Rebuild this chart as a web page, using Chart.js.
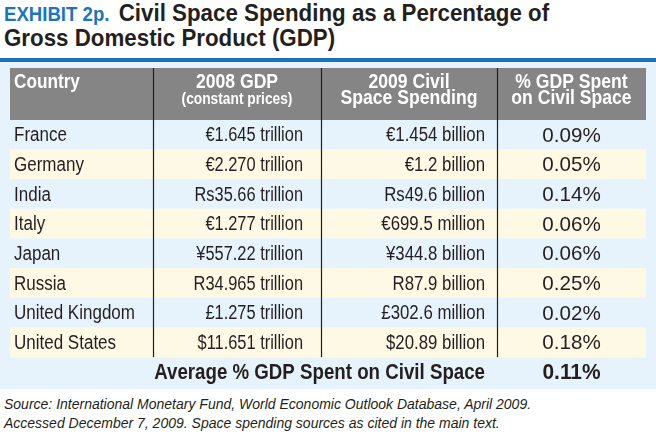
<!DOCTYPE html>
<html>
<head>
    <title>Civil Space Spending as a Percentage of GDP</title>
    <script src="https://cdn.jsdelivr.net/npm/chart.js"></script>
    <style>
        body {
            margin: 0;
            width: 656px;
            height: 437px;
            position: relative;
            overflow: hidden;
            background-color: #ffffff;
            color: #231f20;
            font-family: "Liberation Sans", Arial, sans-serif;
        }

        .title {
            position: absolute;
            left: 4px;
            top: 1px;
            font-weight: bold;
            font-size: 24px;
            line-height: 23px;
            white-space: nowrap;
            transform: scaleX(0.93);
            transform-origin: 0 0;
        }

        .title .exhibit {
            color: #1b75bb;
            font-size: 20px;
            margin-right: 10px;
        }

        .rule {
            position: absolute;
            left: 0;
            top: 58px;
            width: 656px;
            height: 4px;
            background-color: #1a72b9;
        }

        .panel {
            position: absolute;
            left: 0;
            top: 62px;
            width: 656px;
            height: 327px;
            background-color: #e7f3fc;
        }

        .source {
            position: absolute;
            left: 4px;
            top: 395px;
            font-style: italic;
            font-size: 14px;
            line-height: 19px;
        }
    </style>
</head>
<body>
    <div class="title"><span class="exhibit">EXHIBIT 2p.</span>Civil Space Spending as a Percentage of<br>Gross Domestic Product (GDP)</div>
    <div class="rule"></div>
    <div class="panel">
        <canvas id="spaceTable" width="656" height="327"></canvas>
    </div>
    <div class="source">Source: International Monetary Fund, World Economic Outlook Database, April 2009.<br>Accessed December 7, 2009. Space spending sources as cited in the main text.</div>

    <script>
        // table data
        var countries = ['France', 'Germany', 'India', 'Italy', 'Japan', 'Russia', 'United Kingdom', 'United States'];
        var gdp2008 = ['€1.645 trillion', '€2.270 trillion', 'Rs35.66 trillion', '€1.277 trillion',
                       '¥557.22 trillion', 'R34.965 trillion', '£1.275 trillion', '$11.651 trillion'];
        var spending2009 = ['€1.454 billion', '€1.2 billion', 'Rs49.6 billion', '€699.5 million',
                            '¥344.8 billion', 'R87.9 billion', '£302.6 million', '$20.89 billion'];
        var pctGdp = [0.09, 0.05, 0.14, 0.06, 0.06, 0.25, 0.02, 0.18];
        var averagePct = 0.11;
        var averageLabel = 'Average % GDP Spent on Civil Space';
        var headerLines = [
            ['Country'],
            ['2008 GDP', '(constant prices)'],
            ['2009 Civil', 'Space Spending'],
            ['% GDP Spent', 'on Civil Space']
        ];

        // layout (table units = pixels across the table)
        var tableWidth = 636;
        var colEdges = [0, 143, 311, 487, 636];
        var headerHeight = 52;
        var fontFamily = '"Liberation Sans", Arial, sans-serif';
        var textColor = '#231f20';
        var rowColors = ['#e7f3fc', '#fdf9e4'];

        var rowLabels = countries.concat([averageLabel]);

        function fmtPct(v) {
            return v.toFixed(2) + '%';
        }

        // text squeezed sideways, the original face is a narrow one
        function squeezeText(ctx, text, x, y, align, font, sx) {
            ctx.save();
            ctx.translate(x, y);
            ctx.scale(sx, 1);
            ctx.font = font;
            ctx.textAlign = align;
            ctx.fillText(text, 0, 0);
            ctx.restore();
        }

        var tablePlugin = {
            id: 'tableText',
            afterDraw: function (chart) {
                var ctx = chart.ctx;
                var xs = chart.scales.x;
                var ys = chart.scales.y;
                var top = chart.chartArea.top;
                var rowH = ys.getPixelForValue(1) - ys.getPixelForValue(0);
                var edge = colEdges.map(function (v) { return xs.getPixelForValue(v); });
                var headTop = top - headerHeight;
                var lastBottom = ys.getPixelForValue(countries.length - 1) + rowH / 2;

                ctx.save();
                // header background
                ctx.fillStyle = '#858585';
                ctx.fillRect(edge[0], headTop, edge[4] - edge[0], headerHeight);

                // column rules
                ctx.strokeStyle = '#231f20';
                ctx.lineWidth = 1.2;
                for (var c = 1; c < 4; c++) {
                    ctx.beginPath();
                    ctx.moveTo(Math.round(edge[c]) + 0.5, headTop);
                    ctx.lineTo(Math.round(edge[c]) + 0.5, lastBottom);
                    ctx.stroke();
                }

                // header text
                ctx.fillStyle = '#ffffff';
                ctx.textBaseline = 'alphabetic';
                var hFont = 'bold 20px ' + fontFamily;
                squeezeText(ctx, headerLines[0][0], edge[0] + 4, headTop + 20, 'left', hFont, 0.86);
                for (var h = 1; h < 4; h++) {
                    var cx = (edge[h] + edge[h + 1]) / 2;
                    squeezeText(ctx, headerLines[h][0], cx, headTop + 20, 'center', hFont, 0.88);
                    if (h === 1) {
                        squeezeText(ctx, headerLines[h][1], cx, headTop + 36, 'center', 'bold 16px ' + fontFamily, 0.86);
                    } else {
                        squeezeText(ctx, headerLines[h][1], cx, headTop + 36, 'center', hFont, 0.88);
                    }
                }

                // body cells
                ctx.fillStyle = textColor;
                ctx.textBaseline = 'middle';
                var bFont = '20px ' + fontFamily;
                countries.forEach(function (name, i) {
                    var y = ys.getPixelForValue(i) + 1;
                    squeezeText(ctx, name, edge[0] + 4, y, 'left', bFont, 0.85);
                    squeezeText(ctx, gdp2008[i], edge[2] - 18, y, 'right', bFont, 0.82);
                    squeezeText(ctx, spending2009[i], edge[3] - 12, y, 'right', bFont, 0.84);
                    squeezeText(ctx, fmtPct(pctGdp[i]), (edge[3] + edge[4]) / 2, y, 'center', '21px ' + fontFamily, 0.98);
                });

                // average row
                var ay = ys.getPixelForValue(countries.length) + 1;
                var aFont = 'bold 22px ' + fontFamily;
                squeezeText(ctx, averageLabel, edge[3] - 12, ay, 'right', aFont, 0.85);
                squeezeText(ctx, fmtPct(averagePct), (edge[3] + edge[4]) / 2, ay, 'center', aFont, 0.95);
                ctx.restore();
            }
        };

        var spaceTable = new Chart(document.getElementById('spaceTable').getContext('2d'), {
            type: 'bar',
            data: {
                labels: rowLabels,
                datasets: [{
                    data: rowLabels.map(function (l, i) { return i < countries.length ? [0, tableWidth] : null; }),
                    backgroundColor: rowLabels.map(function (l, i) { return rowColors[i % 2]; }),
                    borderWidth: 0,
                    barPercentage: 1,
                    categoryPercentage: 1
                }]
            },
            options: {
                indexAxis: 'y',
                responsive: false,
                animation: false,
                layout: {
                    padding: { left: 10, right: 10, top: 58, bottom: 2 }
                },
                scales: {
                    x: {
                        type: 'linear',
                        min: 0,
                        max: tableWidth,
                        display: false
                    },
                    y: {
                        type: 'category',
                        display: false
                    }
                },
                plugins: {
                    legend: { display: false },
                    tooltip: { enabled: false }
                }
            },
            plugins: [tablePlugin]
        });
    </script>
</body>
</html>
